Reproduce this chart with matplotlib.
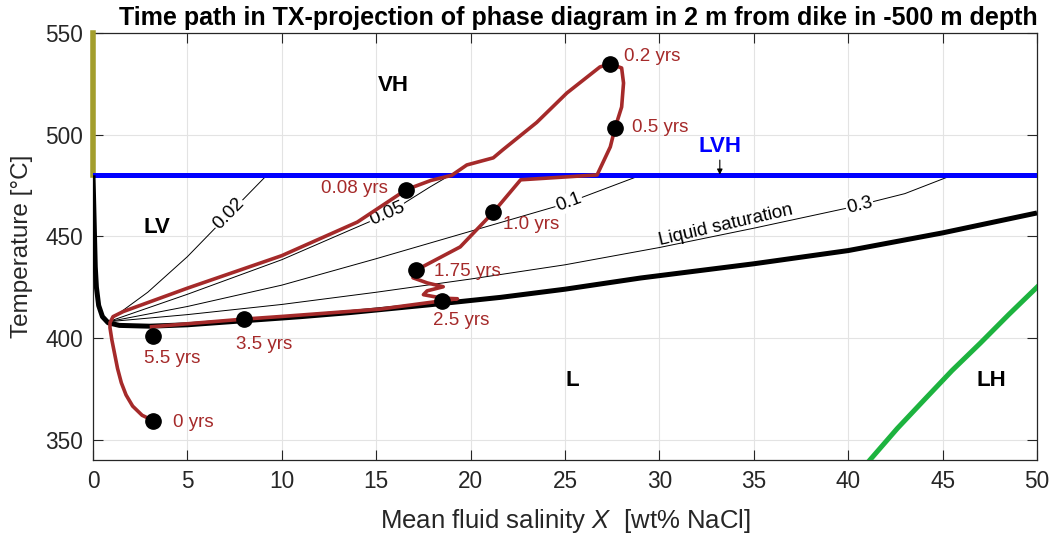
import numpy as np
import matplotlib
matplotlib.use("Agg")
import matplotlib.pyplot as plt
from matplotlib import font_manager

# ---------------- data ----------------
x_ticks = [0, 5, 10, 15, 20, 25, 30, 35, 40, 45, 50]
y_ticks = [350, 400, 450, 500, 550]

# L+V / L boundary (vapour-saturated liquid)
lv_x = [0.0, 0.04, 0.08, 0.12, 0.18, 0.3, 0.5, 0.8, 1.4, 3.0, 5.0, 8.0, 11.0,
        13.6, 18.0, 21.6, 25.0, 29.0, 32.0, 35.0, 40.0, 45.0, 50.0]
lv_T = [480, 465, 450, 435, 425, 416, 410.5, 407.5, 406.2, 405.8, 406.5, 408.5,
        410.5, 412.5, 416.5, 420, 424, 429.5, 433, 436.5, 443, 451.7, 461.5]

# halite liquidus (L / L+H)
lh_x = [41.15, 42.6, 44.07, 45.5, 47.0, 48.5, 50.0]
lh_T = [340, 355.5, 370, 384, 397.5, 411.5, 425]

# three-phase L+V+H temperature
lvh_T = 480.0

# V / V+H boundary at zero salinity
vh_x = [0.0, 0.0]
vh_T = [480, 550]

# iso-lines of liquid saturation
sat_labels = ["0.02", "0.05", "0.1", "0.3"]
sat_x = [
    [0.8, 1.5, 2.9, 5.0, 7.2, 9.2],
    [0.8, 5.0, 10.0, 13.6, 15.6, 16.6, 17.8, 18.9],
    [0.8, 5.0, 10.0, 15.0, 20.0, 25.0, 29.0],
    [0.8, 5.0, 10.0, 15.0, 20.0, 25.0, 30.0, 35.0, 40.0, 43.0, 45.5],
]
sat_T = [
    [408, 413, 422.5, 440, 461, 480],
    [408, 421.5, 438.5, 453, 461, 467, 474, 480],
    [408, 415.5, 426, 439, 452.5, 466, 480],
    [408, 411.5, 416.5, 422.5, 429, 436, 444.5, 454, 464, 471, 480],
]
sat_label_x = [7.2, 15.6, 25.2, 40.6]

# time path of the fluid (salinity, temperature)
path_x = [3.2, 2.6, 2.1, 1.75, 1.5, 1.3, 1.15, 1.0, 0.9, 0.9, 1.06, 1.6, 5.0,
          10.0, 14.0, 16.6, 17.9, 19.0, 19.8, 21.2, 21.7, 23.5, 25.1, 26.85,
          27.4, 28.0, 28.1, 28.0, 27.65, 27.4, 26.7, 22.65, 21.2, 19.45, 17.1,
          16.95, 17.7, 18.55, 17.7, 17.5, 18.5, 19.3, 15.2, 10.0, 8.0, 5.0, 3.1]
path_T = [359.3, 362, 366.5, 372, 378, 385, 392, 399, 405, 407.5, 410.5, 413,
          424.5, 440.5, 457, 473, 477.5, 480, 485.1, 488.6, 492.5, 506, 520.5,
          533.3, 534.8, 532.8, 525.4, 513.6, 503.3, 494, 480.2, 477.8, 461.8,
          444.8, 433.3, 429.6, 427.1, 425.2, 423.2, 421.3, 419.6, 419.3, 414.2,
          410.6, 409.3, 407.0, 405.5]

# labelled instants along the path
time_labels = ["0 yrs", "0.08 yrs", "0.2 yrs", "0.5 yrs", "1.0 yrs",
               "1.75 yrs", "2.5 yrs", "3.5 yrs", "5.5 yrs"]
time_x = [3.2, 16.6, 27.4, 27.65, 21.2, 17.1, 18.5, 8.0, 3.2]
time_T = [359.3, 473, 534.8, 503.3, 461.8, 433.3, 418.3, 409.3, 401.0]

# ---------------- styling ----------------
avail = {f.name for f in font_manager.fontManager.ttflist}
base_font = "Liberation Sans" if "Liberation Sans" in avail else "DejaVu Sans"
plt.rcParams["font.family"] = [base_font, "DejaVu Sans"]
plt.rcParams["mathtext.fontset"] = "custom"
plt.rcParams["mathtext.it"] = base_font + ":italic"
plt.rcParams["mathtext.rm"] = base_font

ink = "#262626"
path_col = "#a52a2a"

fig = plt.figure(figsize=(10.52, 5.37), dpi=100)
ax = fig.add_axes([93 / 1052, 77 / 537, 944 / 1052, 427 / 537])
ax.set_xlim(0, 50)
ax.set_ylim(340, 550)
ax.set_xticks(x_ticks)
ax.set_yticks(y_ticks)
ax.grid(True, color="#e3e3e3", lw=0.8, zorder=0)
ax.set_axisbelow(True)
ax.tick_params(direction="in", length=7, width=0.8, colors=ink, labelsize=16.3,
               top=True, right=True, pad=7)
for sp in ax.spines.values():
    sp.set_color(ink)
    sp.set_linewidth(0.9)

# phase boundaries
ax.plot(vh_x, vh_T, color="#a39e2c", lw=4, zorder=3, clip_on=False)
ax.axhline(lvh_T, color="#0000ff", lw=3.6, zorder=3)
ax.plot(lv_x, lv_T, color="black", lw=3.6, zorder=3, solid_capstyle="butt",
        solid_joinstyle="round")
ax.plot(lh_x, lh_T, color="#1db33f", lw=3.6, zorder=3)

# saturation iso-lines
for xs, ts in zip(sat_x, sat_T):
    ax.plot(xs, ts, color="black", lw=0.7, zorder=2)


def slope_angle(xs, ts, x0):
    """Angle (deg) of a polyline on screen at abscissa x0."""
    pts = ax.transData.transform(np.column_stack([xs, ts]))
    x0d = ax.transData.transform((x0, 0))[0]
    i = int(np.clip(np.searchsorted(pts[:, 0], x0d) - 1, 0, len(pts) - 2))
    dx, dy = pts[i + 1] - pts[i]
    return np.degrees(np.arctan2(dy, dx))


for lab, xs, ts, lx in zip(sat_labels, sat_x, sat_T, sat_label_x):
    ly = np.interp(lx, xs, ts)
    ang = slope_angle(xs, ts, lx)
    ax.text(lx, ly, lab, fontsize=13.5, ha="center", va="center",
            rotation=ang, rotation_mode="anchor", color="black", zorder=2.5,
            bbox=dict(boxstyle="square,pad=0.05", fc="white", ec="none"))

ls_x = 33.6
ls_ang = slope_angle(sat_x[3], sat_T[3], ls_x)
ax.text(ls_x, np.interp(ls_x, sat_x[3], sat_T[3]), "Liquid saturation",
        fontsize=13.5, ha="center", va="bottom", rotation=ls_ang + 1.5,
        rotation_mode="anchor", color="black", zorder=2.5)

# time path
ax.plot(path_x, path_T, color=path_col, lw=2.6, zorder=4,
        solid_joinstyle="round")
ax.plot(time_x, time_T, "o", color="black", ms=11, zorder=5, clip_on=False)

offsets = [(14, -1, "left"), (-13, 1, "right"), (10, 5, "left"),
           (12, 0, "left"), (7, -9, "left"), (13, -1, "left"),
           (-7, -14, "left"), (-6, -18, "left"), (-7, -16, "left")]
for lab, x, t, (dx, dy, ha) in zip(time_labels, time_x, time_T, offsets):
    ax.annotate(lab, (x, t), xytext=(dx, dy), textcoords="offset points",
                ha=ha, va="center", fontsize=13.5, color=path_col, zorder=6)

# field names
for name, x, t in [("VH", 15.9, 524), ("LV", 3.4, 454.5), ("L", 25.4, 379),
                   ("LH", 47.6, 379)]:
    ax.text(x, t, name, fontsize=16, fontweight="bold", ha="center",
            va="center", color="black", zorder=6)
ax.text(33.2, 494, "LVH", fontsize=16, fontweight="bold", ha="center",
        va="center", color="#0000ff", zorder=6)
ax.annotate("", xy=(33.2, 480.3), xytext=(33.2, 487.5),
            arrowprops=dict(arrowstyle="-|>", color="black", lw=0.8,
                            mutation_scale=8, shrinkA=0, shrinkB=0), zorder=6)

ax.set_xlabel(r"Mean fluid salinity $X$  [wt% NaCl]", fontsize=18.5,
              color=ink, labelpad=10)
ax.set_ylabel("Temperature [°C]", fontsize=17.5, color=ink, labelpad=9)

fig.text(578 / 1052, 1 - 25 / 537,
         "Time path in TX-projection of phase diagram in 2 m from dike in -500 m depth",
         fontweight="bold", fontsize=18, ha="center", va="baseline",
         color="black")

fig.savefig("out.png", dpi=100)
